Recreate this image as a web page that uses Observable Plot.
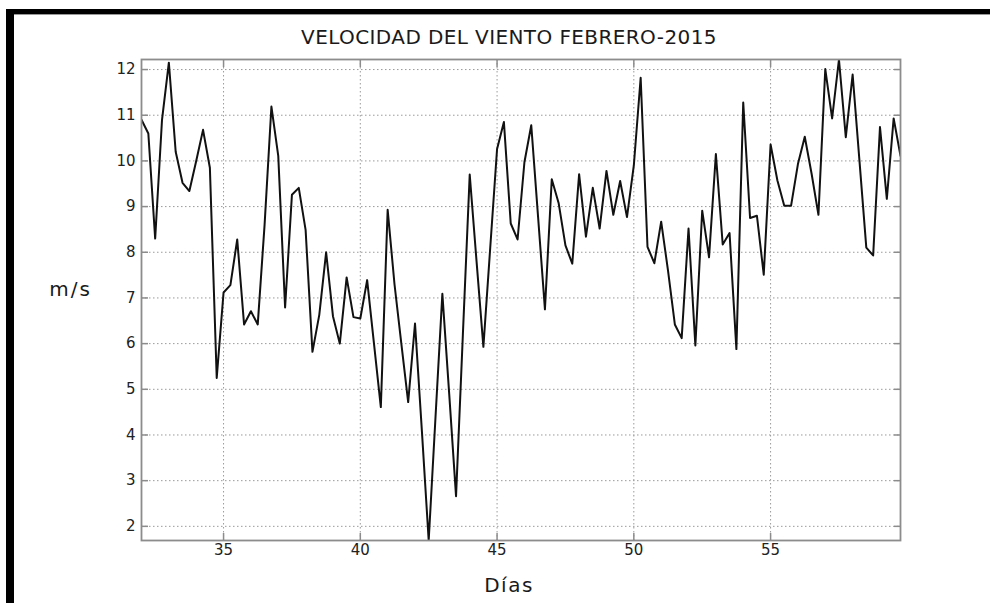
<!DOCTYPE html>
<html>
<head>
<meta charset="utf-8">
<script src="https://cdn.jsdelivr.net/npm/d3@7"></script>
<script src="https://cdn.jsdelivr.net/npm/@observablehq/plot@0.6"></script>
<style>
  html, body { margin: 0; padding: 0; background: #fff; }
  #wrap { position: relative; width: 990px; height: 603px; overflow: hidden; background: #fff; }
  #border { position: absolute; left: 6px; top: 9px; right: 0; bottom: 0;
            border-top: 5px solid #000; border-left: 8px solid #000; }
  #inner { position: absolute; left: 14px; top: 14px; right: 0; height: 0; border-top: 1px solid #999; }
  #chart { position: absolute; left: 0; top: 0; }
  #chart svg { background: transparent; }
</style>
</head>
<body>
<div id="wrap">
  <div id="border"></div>
  <div id="inner"></div>
  <div id="chart"></div>
</div>
<script>
const titleText = "VELOCIDAD DEL VIENTO FEBRERO-2015";
const yLabel = "m/s";
const xLabel = "Días";
const startDay = 32;      // 1 de febrero (día del año)
const stepDays = 0.25;    // datos cada 6 horas
const xTicks = [35, 40, 45, 50, 55];
const yTicks = [2, 3, 4, 5, 6, 7, 8, 9, 10, 11, 12];
// velocidad del viento (m/s), una lectura cada 6 horas, 1-28 febrero
const speeds = [
  10.9, 10.6, 8.3, 10.9, 12.15, 10.2, 9.52, 9.34, 10.0, 10.68, 9.85, 5.25,
  7.12, 7.28, 8.28, 6.42, 6.71, 6.42, 8.6, 11.19, 10.11, 6.79, 9.26, 9.41,
  8.49, 5.82, 6.63, 8.0, 6.6, 6.0, 7.45, 6.58, 6.55, 7.39, 6.0, 4.61,
  8.93, 7.3, 6.0, 4.72, 6.44, 4.1, 1.69, 4.4, 7.09, 4.9, 2.66, 6.2,
  9.7, 7.8, 5.93, 8.1, 10.26, 10.85, 8.63, 8.28, 9.97, 10.78, 8.77, 6.75,
  9.6, 9.08, 8.15, 7.75, 9.71, 8.34, 9.41, 8.52, 9.78, 8.82, 9.56, 8.77,
  9.9, 11.82, 8.12, 7.76, 8.67, 7.6, 6.42, 6.12, 8.52, 5.96, 8.91, 7.89,
  10.15, 8.17, 8.42, 5.88, 11.28, 8.75, 8.8, 7.51, 10.36, 9.57, 9.02, 9.02,
  9.93, 10.53, 9.72, 8.82, 12.01, 10.93, 12.22, 10.52, 11.89, 10.0, 8.1, 7.93,
  10.74, 9.17, 10.93, 10.11
];

const data = speeds.map((v, i) => ({day: startDay + i * stepDays, v}));
const font = "DejaVu Sans, Liberation Sans, sans-serif";
const axisColor = "#8c8c8c";
const gridStyle = {stroke: "#9a9a9a", strokeOpacity: 1, strokeWidth: 1, strokeDasharray: "1.5,2.5"};
const noText = () => "";
const tickOpts = {tickSize: 7, tickFormat: noText, label: null, stroke: axisColor, strokeWidth: 1.5};
const centered = {textAnchor: "middle", lineAnchor: "middle", fontSize: 20, fill: "#1a1a1a"};

const chart = Plot.plot({
  width: 990,
  height: 603,
  marginLeft: 141,
  marginRight: 90,
  marginTop: 59,
  marginBottom: 63,
  style: {fontFamily: font, background: "transparent", color: "#222"},
  x: {domain: [startDay, startDay + (speeds.length - 1) * stepDays]},
  y: {domain: d3.extent(speeds)},
  marks: [
    Plot.gridX(xTicks, gridStyle),
    Plot.gridY(yTicks, gridStyle),
    Plot.line(data, {x: "day", y: "v", stroke: "#111", strokeWidth: 2, clip: true}),
    Plot.frame({stroke: axisColor, strokeWidth: 1.8}),
    Plot.axisX(xTicks, {anchor: "bottom", dy: -7, ...tickOpts}),
    Plot.axisX(xTicks, {anchor: "top", dy: 7, ...tickOpts}),
    Plot.axisY(yTicks, {anchor: "left", dx: 7, ...tickOpts}),
    Plot.axisY(yTicks, {anchor: "right", dx: -7, ...tickOpts}),
    Plot.axisX(xTicks, {anchor: "bottom", tickSize: 0, tickPadding: 4, fontSize: 15, label: null, color: "#222"}),
    Plot.axisY(yTicks, {anchor: "left", tickSize: 0, tickPadding: 6, fontSize: 15, label: null, color: "#222"}),
    Plot.text([titleText], {frameAnchor: "top", dy: -22, dx: -12, ...centered}),
    Plot.text([yLabel], {frameAnchor: "left", dx: -71, dy: -10, ...centered}),
    Plot.text([xLabel], {frameAnchor: "bottom", dy: 45, dx: -12, ...centered})
  ]
});

document.getElementById("chart").appendChild(chart);
chart.querySelectorAll("text").forEach(t => {
  const s = t.textContent;
  if (s === yLabel) t.style.letterSpacing = "2px";
  else if (s === xLabel) t.style.letterSpacing = "1.5px";
  else if (s === titleText) t.style.letterSpacing = "0.4px";
});
</script>
</body>
</html>
